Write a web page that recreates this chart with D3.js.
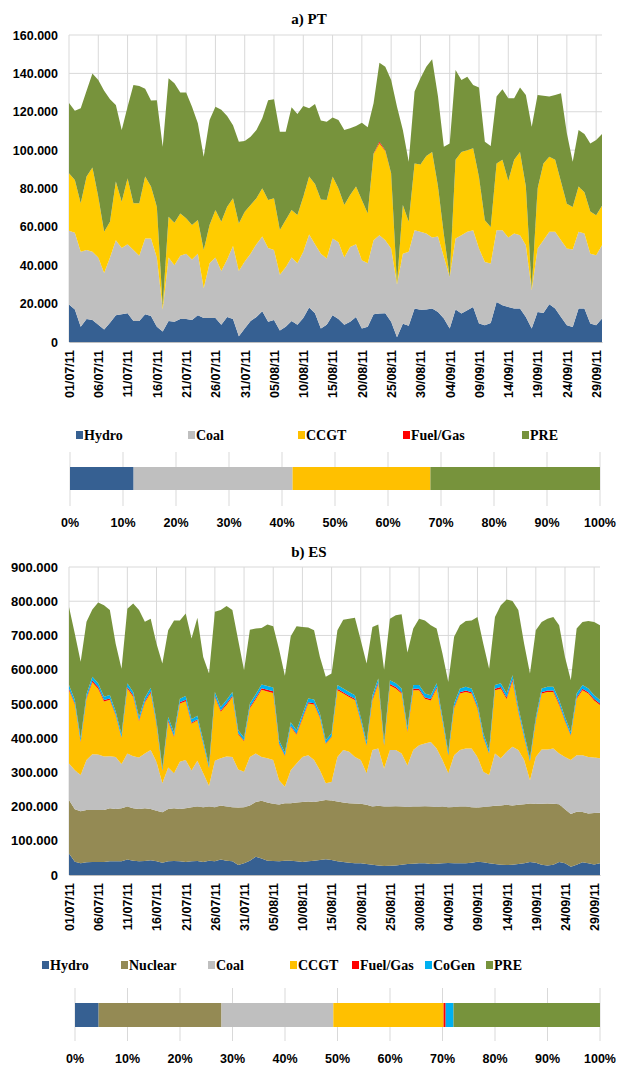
<!DOCTYPE html>
<html>
<head>
<meta charset="utf-8">
<script src="https://cdn.jsdelivr.net/npm/d3@7"></script>
<style>
  body { margin: 0; background: #fff; }
  text { font-family: "Liberation Sans", Arial, sans-serif; font-weight: bold; fill: #000; }
  text.serif { font-family: "Liberation Serif", "Times New Roman", serif; }
</style>
</head>
<body>
<svg id="chart" width="617" height="1072"></svg>
<script>
// daily generation, thousand MWh, 01/07/11 .. 30/09/11 (92 days)

// a) PT
var ptHydro = [19.5,17,8,12,11.5,9,6.5,10,14,14.5, 15,11,11,14.5,13.5,8,5.5,11,10.5,12,
  12,11.5,14,12.5,12.5,12.5,9,13,12,3, 7,11,13,16,10.5,11.5,6,8,11,9,
  12.5,18,15,7,9,14,12,9,10.5,13, 7,8,14.4,14.8,15,10.5,2.5,9.5,8.5,17.5,
  16.8,16.9,17.4,15.7,12.2,7,16.9,14.8,16.5,18.3, 9.6,8.7,9.9,20.9,19.1,18.3,17.4,17.4,13,7,
  15.7,15.1,19.7,17.4,13,8.7,7.8,17.4,17.4,9.6, 8.7,12.2];
var ptCoal = [38.5,40,39,36,35.5,35,29.5,34,39,34.5, 36,37,34,39.5,40.5,36,11.5,33,29.5,33,
  34,31.5,32,15.5,28.5,31.5,28,30,38,34, 35,35,38,39,38.5,36.5,29,31,33,32,
  34.5,38,36,39,34.5,40,40,35,39,38, 35.6,33,38.6,40.8,38,38.2,27.5,36.5,38.5,40.8,
  40.6,39.6,37,39.3,32.1,26.9,37.1,40.9,40.9,40, 39.1,33,31,37.4,39.2,36.1,39.1,38.3,37.4,20,
  33,37.9,37.7,40,40,40,40.4,40,39.1,36.4, 36.5,38.2];
var ptCcgt = [30,27.4,25.3,38.2,44,31.7,21.5,18.7,30.6,24.1, 34.3,24.3,27.3,32.2,27,26.5,1.4,21.3,22.2,22,
  18.5,18,17.6,20,20,24.8,25.7,27.5,24.9,24.8, 25.9,25.4,23.9,25.1,25,26.9,23.4,24.6,24.8,25.2,
  28.7,30.2,31.3,28.3,30.5,32.2,28.1,27.4,27.1,30, 31.4,26,45,48,46.6,39.3,0.5,25.4,15.7,34.7,
  35.1,40.5,44.6,26,11.7,0.1,41,43.3,42.6,42.7, 37.3,21.8,19.1,34.7,36.7,29.6,38.5,43.3,30.6,0.5,
  31.3,40,39.1,37.6,30.5,23.3,22.2,23.6,21.5,22, 20.8,20.6];
var ptFuel = [0,0,0,0,0,0,0,0,0,0, 0,0,0,0,0,0,0,0,0,0,
  0,0,0,0,0,0,0,0,0,0, 0,0,0,0,0,0,0,0,0,0,
  0,0,0,0,0,0,0,0,0,0, 0,0,0.3,0.8,0.4,0,0,0,0,0,
  0,0,0,0,0,0,0,0,0,0, 0,0,0,0,0,0,0,0,0,0,
  0,0,0,0,0,0,0,0,0,0, 0,0];
var ptPre = [36.5,36.1,49.5,44.8,49,60.8,73.5,63.8,39.9,37.4, 37.3,61.7,61.1,45.8,44.8,55.5,83.4,72.1,72.6,63,
  65.5,61.6,50.4,48.6,54.7,53.8,58.3,47.3,38.1,42.6, 36.9,35.6,35.6,36.5,52,51.6,51.2,46,53.5,52.6,
  47.3,35.6,41.7,41.1,40.8,30.8,35.6,39.1,34.8,31.6, 40.3,44.9,26.1,41.2,43.5,48.5,92.1,39.1,31.3,37.5,
  45,46.5,48.3,46.9,45.8,69.5,46.8,37.5,38.3,33, 46.7,40.9,42.2,34.9,36.7,43,32,33.7,47.7,84.7,
  48.7,35.4,31.4,33.7,46.1,36.8,23.6,29.5,30.4,35.5, 39.3,37.4];

// b) ES
var esHydro = [63,39,34,37,38,38,38,40,40,40, 45,42,40,41,43,40,36,40,41,40,
  38,40,41,38,42,40,45,42,40,29, 34,42,53,48,42,41,40,42,42,40,
  38,40,42,44,46,44,40,38,36,34, 34,32,30,28,26,27,28,30,32,33,
  34,34,32,33,34,35,34,34,34,36, 39,37,34,32,30,29,30,32,34,38,
  36,30,28,30,38,34,24,30,37,34, 31,34];
var esNuclear = [156,153,152,153,152,152,152,155,153,155, 155,153,153,154,150,148,147,153,154,153,
  157,158,159,160,158,158,158,158,158,168, 164,161,160,169,170,167,166,168,168,172,
  175,175,171,172,173,174,175,174,174,175, 174,173,170,174,174,173,173,170,167,167,
  166,167,168,166,166,163,165,166,166,162, 158,162,166,170,173,176,173,173,173,171,
  172,178,181,178,169,158,154,155,147,146, 150,148];
var esCoal = [107,114,106,146,163,162,156,152,152,129, 155,152,150,160,172,142,85,121,102,138,
  141,107,134,99,60,136,138,146,147,111, 104,142,142,128,129,128,71,48,96,114,
  132,135,123,90,49,54,130,153,150,136, 128,92,165,168,111,165,164,155,121,165,
  179,183,189,171,136,99,151,165,170,172, 148,103,92,153,138,155,172,160,129,68,
  137,159,158,162,148,153,158,165,166,165, 162,159];
var esCcgt = [214,192,96,178,210,192,161,165,121,76, 190,174,106,149,167,108,35,134,106,170,
  172,137,118,86,51,186,136,151,175,103, 89,142,158,196,195,196,105,90,127,84,
  111,151,162,153,115,131,195,165,160,166, 113,81,145,188,66,189,180,175,98,175,
  161,131,121,175,113,52,137,165,165,160, 142,100,62,185,203,154,191,111,65,54,
  104,163,168,165,142,104,71,165,190,185, 167,156];
var esFuel = [4,3,2,4,5,5,4,4,3,2, 4,4,3,4,4,3,2,4,3,4,
  4,3,3,2,2,4,4,4,4,3, 2,4,4,5,5,5,3,2,3,3,
  4,4,4,3,2,2,4,4,4,4, 3,2,4,5,3,4,4,4,3,4,
  4,4,4,4,3,2,4,4,4,4, 4,3,2,4,5,5,6,4,3,2,
  3,4,4,4,4,3,2,4,4,4, 4,4];
var esCogen = [11,10,9,10,11,11,10,10,9,9, 11,10,10,10,11,9,8,10,10,10,
  11,10,10,9,8,11,10,10,11,9, 9,10,11,11,11,11,9,8,10,10,
  10,11,11,10,9,9,11,11,11,10, 10,9,11,11,9,11,11,11,9,11,
  11,11,11,11,10,9,10,11,11,11, 10,9,9,11,11,11,12,11,10,8,
  10,11,11,11,10,10,9,11,11,11, 11,10];
var esPre = [228,194,224,212,197,236,267,248,198,192, 218,258,312,222,202,226,305,253,328,229,
  241,236,287,243,268,234,283,275,239,263, 196,216,192,165,180,179,266,224,252,304,
  255,207,202,165,185,175,160,201,214,227, 224,229,200,158,211,180,199,217,220,165,
  194,214,205,160,185,204,195,185,192,199, 253,262,238,199,228,275,217,283,262,248,
  253,194,199,204,219,175,151,190,184,197, 214,219];

// period shares (%)
var ptKeys = ["Hydro", "Coal", "CCGT", "Fuel/Gas", "PRE"];
var ptShare = [12, 30, 26, 0, 32];
var esKeys = ["Hydro", "Nuclear", "Coal", "CCGT", "Fuel/Gas", "CoGen", "PRE"];
var esShare = [4.5, 23.4, 21.3, 21.0, 0.4, 1.5, 27.9];
var pctTicks = [0, 10, 20, 30, 40, 50, 60, 70, 80, 90, 100];

var colors = {
  "Hydro": "#366092", "Nuclear": "#948a54", "Coal": "#bfbfbf", "CCGT": "#ffc000",
  "Fuel/Gas": "#ff0000", "CoGen": "#00b0f0", "PRE": "#77933c"
};

var svg = d3.select("#chart");
var days = d3.timeDay.range(new Date(2011, 6, 1), new Date(2011, 9, 1));
var tickDays = days.filter(function(d, i) { return i % 5 === 0; });
var fmtDate = d3.timeFormat("%d/%m/%y");
var fmtNum = d3.formatLocale({decimal: ",", thousands: ".", grouping: [3], currency: ["", ""]}).format(",");

function areaChart(c) {
  var x = d3.scaleTime().domain([days[0], days[days.length - 1]]).range([c.left, c.right]);
  var y = d3.scaleLinear().domain([0, c.max]).range([c.bottom, c.top]);
  var yTicks = y.ticks(c.nTicks);

  var rows = days.map(function(d, i) {
    var r = {date: d};
    c.keys.forEach(function(k, j) { r[k] = c.series[j][i]; });
    return r;
  });
  var stacked = d3.stack().keys(c.keys)(rows);

  var g = svg.append("g");

  // grid
  g.append("g").selectAll("line").data(yTicks).enter().append("line")
      .attr("x1", c.left).attr("x2", c.right)
      .attr("y1", function(d) { return y(d); }).attr("y2", function(d) { return y(d); })
      .attr("stroke", "#d9d9d9").attr("stroke-width", 1);
  g.append("g").selectAll("line").data(tickDays).enter().append("line")
      .attr("x1", function(d) { return x(d); }).attr("x2", function(d) { return x(d); })
      .attr("y1", c.top).attr("y2", c.bottom)
      .attr("stroke", "#d9d9d9").attr("stroke-width", 1);

  var area = d3.area()
      .x(function(d) { return x(d.data.date); })
      .y0(function(d) { return y(d[0]); })
      .y1(function(d) { return y(d[1]); });

  g.selectAll("path.layer").data(stacked).enter().append("path")
      .attr("class", "layer")
      .attr("fill", function(d) { return c.areaColors[d.key] || colors[d.key]; })
      .attr("d", area);

  // y axis
  var ya = g.append("g")
      .attr("transform", "translate(" + c.left + ",0)")
      .call(d3.axisLeft(y).tickValues(yTicks).tickSize(0).tickPadding(11)
        .tickFormat(function(d) { return fmtNum(d * 1000); }));
  ya.select(".domain").remove();
  ya.selectAll("text").style("font-size", c.yFont + "px");

  // x axis
  var xa = g.append("g")
      .attr("transform", "translate(0," + c.bottom + ")")
      .call(d3.axisBottom(x).tickValues(tickDays).tickSize(0).tickFormat(fmtDate));
  xa.select(".domain").attr("stroke", "#bfbfbf");
  xa.selectAll("text")
      .style("font-size", "12.5px")
      .attr("transform", "rotate(-90)")
      .attr("text-anchor", "end")
      .attr("x", -8).attr("y", 0).attr("dy", "0.35em");

  svg.append("text").attr("class", "serif")
      .attr("x", 309).attr("y", c.titleY)
      .attr("text-anchor", "middle")
      .style("font-size", "15px")
      .text(c.title);
}

function legend(keys, xs, yc) {
  var lg = svg.append("g");
  var item = lg.selectAll("g").data(keys).enter().append("g")
      .attr("transform", function(d, i) { return "translate(" + xs[i] + "," + yc + ")"; });
  item.append("rect")
      .attr("x", 0).attr("y", -4).attr("width", 7).attr("height", 8)
      .attr("fill", function(d) { return colors[d]; });
  item.append("text").attr("class", "serif")
      .attr("x", 8).attr("dy", "0.35em")
      .style("font-size", "14px")
      .text(function(d) { return d; });
}

function shareBar(keys, shares, b) {
  var x = d3.scaleLinear().domain([0, 100]).range([b.x0, b.x1]);
  var g = svg.append("g");
  g.selectAll("line").data(pctTicks).enter().append("line")
      .attr("x1", function(d) { return x(d); }).attr("x2", function(d) { return x(d); })
      .attr("y1", b.gridTop).attr("y2", b.gridBottom)
      .attr("stroke", "#d9d9d9").attr("stroke-width", 1);
  var cum = 0;
  var segs = keys.map(function(k, i) {
    var s = {key: k, start: cum, end: cum + shares[i]};
    cum += shares[i];
    return s;
  }).filter(function(s) { return s.end > s.start; });
  g.selectAll("rect").data(segs).enter().append("rect")
      .attr("x", function(d) { return x(d.start); })
      .attr("width", function(d) { return x(d.end) - x(d.start); })
      .attr("y", b.top).attr("height", b.height)
      .attr("fill", function(d) { return colors[d.key]; });
  g.selectAll("text").data(pctTicks).enter().append("text")
      .attr("x", function(d) { return x(d); })
      .attr("y", b.labelY)
      .attr("text-anchor", "middle")
      .style("font-size", "12.5px")
      .text(function(d) { return d + "%"; });
}

areaChart({
  title: "a) PT", titleY: 24,
  left: 69, right: 602, top: 35, bottom: 342, max: 160, nTicks: 8, yFont: 12.5,
  keys: ptKeys, series: [ptHydro, ptCoal, ptCcgt, ptFuel, ptPre],
  areaColors: {"CCGT": "#ffcc00"}
});
legend(ptKeys, [76, 188, 298, 403, 522], 435);
shareBar(ptKeys, ptShare, {x0: 70, x1: 600, top: 467, height: 23, gridTop: 452, gridBottom: 506, labelY: 527});

areaChart({
  title: "b) ES", titleY: 557,
  left: 69, right: 600, top: 567, bottom: 875, max: 900, nTicks: 9, yFont: 13,
  keys: esKeys, series: [esHydro, esNuclear, esCoal, esCcgt, esFuel, esCogen, esPre],
  areaColors: {}
});
legend(esKeys, [42, 121, 208, 290, 352, 425, 486], 965);
shareBar(esKeys, esShare, {x0: 75, x1: 600, top: 1003, height: 24, gridTop: 988, gridBottom: 1041, labelY: 1063});
</script>
</body>
</html>
